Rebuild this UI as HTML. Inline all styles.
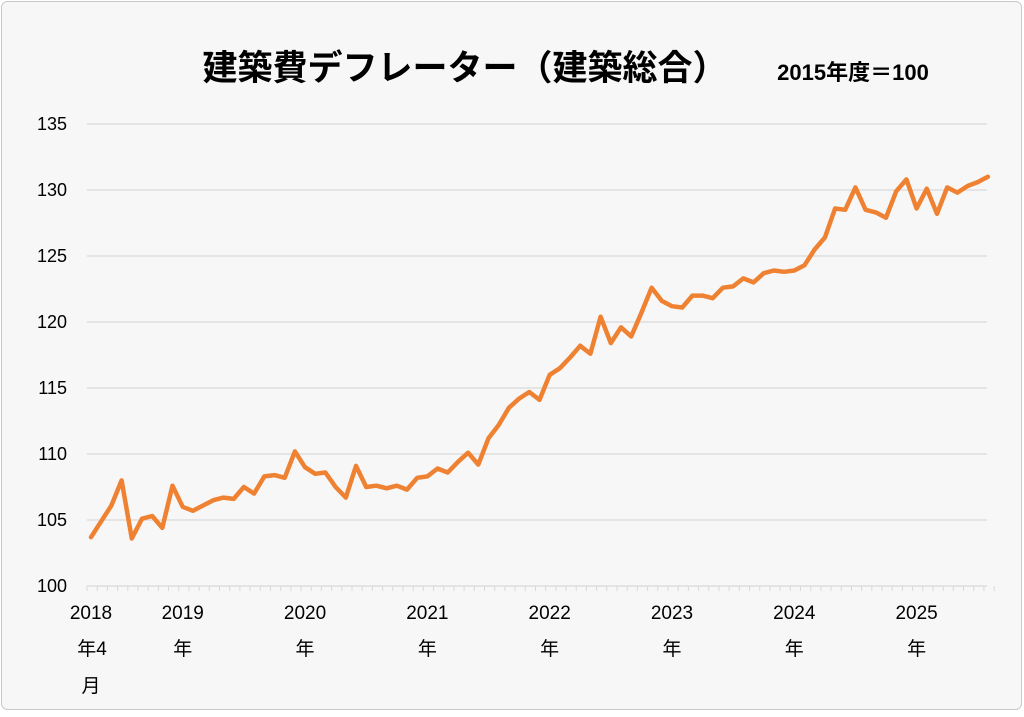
<!DOCTYPE html>
<html><head><meta charset="utf-8"><style>
body{margin:0;background:#fff;}
svg text{font-family:"Liberation Sans","Noto Sans CJK JP",sans-serif;}
</style></head><body>
<svg width="1024" height="712" viewBox="0 0 1024 712">
<rect x="1.5" y="1.5" width="1020" height="708" rx="6" fill="#f7f7f7" stroke="#c8c8c8"/>
<text x="465" y="80" text-anchor="middle" font-size="35" font-weight="bold" fill="#000">建築費デフレーター（建築総合）</text>
<text x="853" y="80" text-anchor="middle" font-size="22" font-weight="bold" fill="#000">2015年度＝100</text>
<g id="grid"></g><g id="yl"></g><g id="xa"></g><g id="xl"></g>
<path id="line" fill="none" stroke="#ef8232" stroke-width="4.5" stroke-linejoin="round" stroke-linecap="round"/>
</svg>
<script>
const values=[103.7,104.9,106.1,108.0,103.6,105.1,105.3,104.4,107.6,
106.0,105.7,106.1,106.5,106.7,106.6,107.5,107.0,108.3,108.4,108.2,110.2,
109.0,108.5,108.6,107.5,106.7,109.1,107.5,107.6,107.4,107.6,107.3,108.2,
108.3,108.9,108.6,109.4,110.1,109.2,111.2,112.2,113.5,114.2,114.7,114.1,
116.0,116.5,117.3,118.2,117.6,120.4,118.4,119.6,118.9,120.7,122.6,121.6,
121.2,121.1,122.0,122.0,121.8,122.6,122.7,123.3,123.0,123.7,123.9,123.8,
123.9,124.3,125.5,126.4,128.6,128.5,130.2,128.5,128.3,127.9,129.9,130.8,
128.6,130.1,128.2,130.2,129.8,130.3,130.6,131.0];
const yTicks=[100,105,110,115,120,125,130,135];
const years=[2018,2019,2020,2021,2022,2023,2024,2025];
const startMonth=4;
const NS="http://www.w3.org/2000/svg";
const X0=87,X1=987,Y0=586,Y1=124;
const n=values.length;
const step=(X1-X0)/(n-1+0.3);
const xs=i=>X0+4+i*step;
const ys=v=>Y0-(v-100)/35*(Y0-Y1);
function mk(t,a,p){const e=document.createElementNS(NS,t);for(const k in a)e.setAttribute(k,a[k]);document.getElementById(p).appendChild(e);return e;}
yTicks.forEach(v=>{
 if(v>100){const g=mk('line',{x1:X0,x2:X1,y1:ys(v),y2:ys(v),stroke:'#d9d9d9','stroke-width':1.3},'grid');
 
 }
 const t=mk('text',{x:67,y:ys(v)+6,'text-anchor':'end','font-size':18,fill:'#000'},'yl');t.textContent=v;
 
 
});
const ax=mk('line',{x1:X0,x2:X1,y1:Y0,y2:Y0,stroke:'#d9d9d9','stroke-width':1.3},'xa');


for(let i=0;i<=n;i++){const x=X0+i*step;const tk=mk('line',{x1:x,x2:x,y1:Y0,y2:Y0+5,stroke:'#d9d9d9','stroke-width':1},'xa');
 
 }
years.forEach((yr,k)=>{
 const idx=k===0?0:(yr-2018)*12+1-startMonth;
 const x=xs(idx);
 const t=mk('text',{x:x,y:619,'text-anchor':'middle','font-size':19,fill:'#000'},'xl');t.textContent=yr;
 
 
 const t2=mk('text',{x:k===0?x+1:x,y:655,'text-anchor':'middle','font-size':19,fill:'#000'},'xl');t2.textContent=k===0?'年4':'年';
 
 
 if(k===0){const t3=mk('text',{x:x,y:692,'text-anchor':'middle','font-size':19,fill:'#000'},'xl');t3.textContent='月';
 
 }
});
document.getElementById('line').setAttribute('d',values.map((v,i)=>(i?'L':'M')+xs(i).toFixed(1)+','+ys(v).toFixed(1)).join(''));
</script>
</body></html>
